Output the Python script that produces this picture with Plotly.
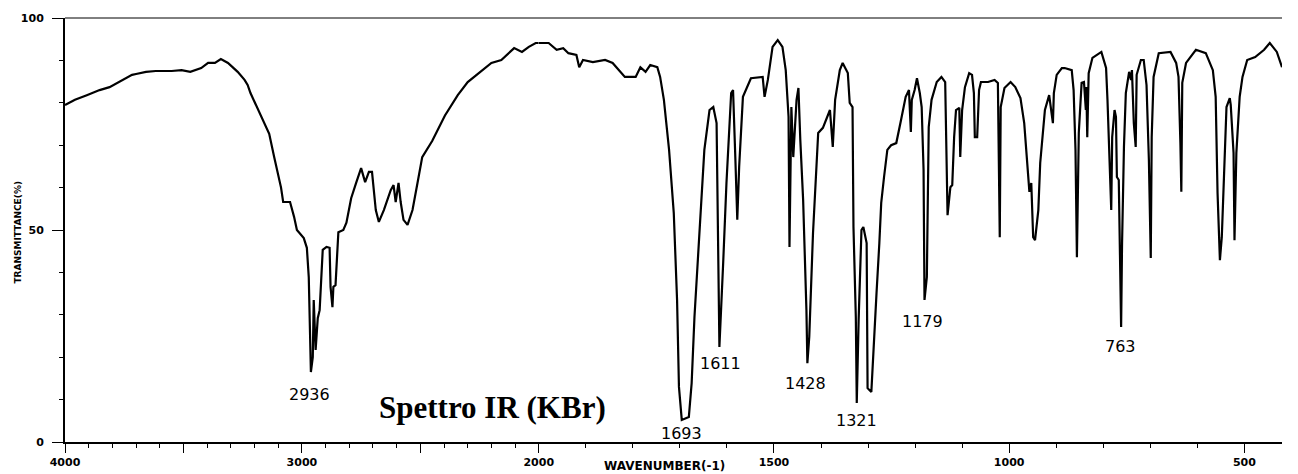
import plotly.graph_objects as go

# ---- data: IR spectrum (wavenumber in cm-1, transmittance in %) ----
wavenumber = [
    4000, 3958, 3908, 3854, 3812, 3758, 3717, 3700, 3658, 3617, 3550, 3508, 3471, 3425,
    3396, 3367, 3342, 3312, 3271, 3242, 3229, 3217, 3175, 3138, 3117, 3096, 3088, 3079,
    3050, 3033, 3021, 2992, 2979, 2971, 2962, 2954, 2950, 2942, 2933, 2925, 2912, 2896,
    2883, 2879, 2871, 2867, 2858, 2846, 2825, 2812, 2792, 2771, 2750, 2733, 2717, 2704,
    2696, 2688, 2675, 2654, 2625, 2613, 2604, 2592, 2583, 2571, 2554, 2533, 2512, 2492,
    2450, 2396, 2342, 2300, 2200, 2158, 2104, 2071, 2042, 2013, 2000,
    1979, 1962, 1948, 1937, 1920, 1914, 1906, 1885, 1859, 1843, 1826, 1817, 1794, 1784,
    1773, 1763, 1748, 1742, 1734, 1723, 1713, 1706, 1702, 1696, 1681, 1675, 1669, 1658,
    1648, 1637, 1629, 1622, 1616, 1608, 1601, 1591, 1587, 1582, 1578, 1574, 1566, 1549,
    1524, 1520, 1513, 1503, 1492, 1482, 1475, 1469, 1467, 1463, 1459, 1452, 1448, 1444,
    1438, 1431, 1429, 1425, 1417, 1406, 1396, 1381, 1375, 1370, 1360, 1354, 1343, 1339,
    1333, 1331, 1326, 1324, 1320, 1314, 1310, 1303, 1301, 1293, 1289, 1282, 1276, 1272,
    1266, 1259, 1251, 1240, 1230, 1220, 1213, 1209, 1207, 1201, 1196, 1190, 1186, 1182,
    1180, 1175, 1171, 1165, 1154, 1144, 1136, 1134, 1131, 1125, 1121, 1117, 1113, 1106,
    1104, 1100, 1094, 1085, 1079, 1075, 1073, 1068, 1064, 1060, 1045, 1031, 1024, 1020,
    1018, 1010, 997, 987, 976, 968, 961, 957, 953, 949, 945, 938, 934, 924, 915, 911,
    907, 905, 899, 888, 882, 867, 863, 859, 856, 852, 846, 841, 837, 836, 834, 831, 823,
    804, 794, 791, 787, 783, 781, 776, 773, 771, 767, 762, 760, 756, 752, 745, 741, 739,
    735, 731, 729, 720, 714, 708, 703, 699, 697, 693, 682, 657, 645, 640, 636, 634, 632,
    624, 603, 582, 567, 561, 557, 552, 548, 542, 538, 531, 529, 523, 521, 517, 510, 504,
    494, 477, 458, 446, 431, 420,
]
transmittance = [
    79.5, 80.7, 81.8, 83.0, 83.7, 85.4, 86.6, 86.8, 87.3, 87.5, 87.5, 87.7, 87.3, 88.2,
    89.4, 89.4, 90.3, 89.4, 87.3, 85.4, 84.2, 82.3, 77.0, 72.7, 67.2, 62.5, 60.0, 56.6,
    56.6, 53.1, 50.0, 48.1, 45.8, 38.9, 16.5, 20.0, 33.5, 21.7, 29.2, 31.1, 45.3, 46.0,
    45.8, 36.6, 31.8, 36.6, 37.0, 49.5, 50.0, 51.7, 57.5, 61.1, 64.6, 61.3, 63.7, 63.7,
    59.4, 54.7, 51.9, 54.7, 59.4, 60.6, 56.6, 61.1, 56.6, 52.4, 51.2, 54.7, 61.1, 67.2,
    71.0, 77.0, 81.8, 84.9, 89.4, 90.1, 92.9, 92.0, 93.2, 94.1, 94.1,
    94.1, 92.5, 92.9, 91.7, 91.3, 88.4, 90.1, 89.6, 90.1, 89.4, 87.3, 86.1, 86.1, 88.4,
    87.3, 88.9, 88.4, 86.1, 80.7, 68.9, 54.0, 33.5, 13.0, 5.2, 5.9, 13.9, 29.5, 49.3,
    68.9, 78.3, 79.0, 75.2, 22.4, 42.2, 61.1, 82.3, 83.0, 66.5, 52.4, 64.9, 81.4, 85.8,
    86.1, 81.4, 85.4, 93.2, 94.8, 93.2, 87.7, 76.7, 46.0, 79.0, 67.2, 80.7, 83.5, 71.2,
    57.1, 31.1, 18.6, 24.8, 49.3, 72.9, 74.1, 78.3, 69.6, 80.7, 87.7, 89.4, 87.0, 80.0,
    79.0, 50.7, 29.5, 9.2, 28.8, 50.0, 50.7, 46.9, 12.7, 11.8, 19.3, 35.1, 46.9, 56.4,
    62.5, 68.9, 70.0, 70.5, 75.9, 81.4, 83.0, 73.1, 80.7, 83.0, 85.8, 82.3, 79.0, 64.2,
    33.5, 38.9, 74.3, 80.7, 84.9, 86.1, 84.9, 71.9, 53.5, 60.1, 60.6, 71.9, 78.3, 78.8,
    67.2, 78.3, 83.7, 87.0, 86.6, 82.3, 71.9, 71.9, 83.0, 84.9, 84.9, 85.4, 84.7, 48.3,
    79.0, 83.5, 84.9, 83.7, 81.1, 75.2, 65.8, 59.0, 61.1, 48.3, 47.6, 54.7, 65.8, 78.3, 81.8, 79.0,
    75.2, 82.3, 86.6, 88.2, 88.2, 87.7, 83.0, 68.9, 43.6, 72.9, 84.7, 84.9, 78.3, 83.7, 71.9, 87.0, 90.6,
    92.0, 88.2, 80.7, 66.5, 54.7, 71.9, 78.3, 76.7, 62.5, 61.8, 27.1, 46.9, 69.6, 82.3, 87.3, 85.4, 87.7,
    75.2, 69.6, 86.6, 90.1, 90.1, 84.2, 66.5, 43.4, 71.9, 86.1, 91.7, 92.0, 89.4, 86.1, 70.5, 59.0, 84.7,
    89.4, 92.5, 91.7, 87.7, 81.4, 58.7, 42.9, 48.3, 64.2, 79.0, 81.1, 79.5, 68.2, 47.6, 68.2, 81.4, 86.1,
    90.1, 90.8, 92.5, 94.1, 92.0, 88.4,
]

# labelled bands (cm-1)
peak_labels = ["2936", "1693", "1611", "1428", "1321", "1179", "763"]

# axis ticks
hi_tickvals = [4000, 3500, 3000, 2500, 2000]
hi_ticktext = ["4000", "", "3000", "", "2000"]
lo_tickvals = [1500, 1000, 500]
lo_ticktext = ["1500", "1000", "500"]
y_tickvals = [0, 50, 100]
y_ticktext = ["0", "50", "100"]

# ---- split spectrum at 2000 cm-1 (scale change) ----
wn_hi = [w for w in wavenumber if w >= 2000]
t_hi = [t for w, t in zip(wavenumber, transmittance) if w >= 2000]
wn_lo = [w for w in wavenumber if w <= 2000]
t_lo = [t for w, t in zip(wavenumber, transmittance) if w <= 2000]

W, H = 1298, 474
ML, MR, MT, MB = 65, 0, 18, 32
plot_w = W - ML - MR
split = 480 / plot_w

line_style = dict(color="black", width=2.2)
fig = go.Figure()
fig.add_trace(go.Scatter(x=wn_hi, y=t_hi, mode="lines", line=line_style,
                         xaxis="x", yaxis="y", hoverinfo="x+y"))
fig.add_trace(go.Scatter(x=wn_lo, y=t_lo, mode="lines", line=line_style,
                         xaxis="x2", yaxis="y", hoverinfo="x+y"))

tick_font = dict(family="DejaVu Sans, Arial, sans-serif", size=11, color="black", weight="bold")
common_x = dict(
    showline=True, linewidth=2, linecolor="black", showgrid=False, zeroline=False,
    ticks="outside", ticklen=9, tickwidth=1, tickcolor="black", tickfont=tick_font,
    minor=dict(dtick=100, tick0=0, ticks="outside", ticklen=4, tickwidth=1,
               tickcolor="black", showgrid=False),
    anchor="y", fixedrange=True,
)

fig.update_layout(
    width=W, height=H,
    margin=dict(l=ML, r=MR, t=MT, b=MB),
    paper_bgcolor="white", plot_bgcolor="white",
    showlegend=False,
    xaxis=dict(domain=[0, split], range=[4000, 2000], tickvals=hi_tickvals,
               ticktext=hi_ticktext, **common_x),
    xaxis2=dict(domain=[split, 1], range=[2000, 420], tickvals=lo_tickvals,
                ticktext=lo_ticktext, **common_x),
    yaxis=dict(range=[0, 100], tickvals=y_tickvals, ticktext=y_ticktext,
               showline=True, linewidth=2, linecolor="black", showgrid=False,
               zeroline=False, ticks="outside", ticklen=11, tickwidth=1,
               tickcolor="black", tickfont=tick_font, ticklabelstandoff=6,
               minor=dict(dtick=10, ticks="outside", ticklen=4, tickwidth=1,
                          tickcolor="black", showgrid=False),
               anchor="x", fixedrange=True),
    shapes=[dict(type="line", xref="paper", yref="paper", x0=0, x1=1, y0=1, y1=1,
                 line=dict(color="black", width=1))],
)

# peak label placement (axis, x, y in data units)
label_pos = [("x", 2969, 11.1), ("x2", 1696, 2.1), ("x2", 1614, 18.4),
             ("x2", 1432, 13.7), ("x2", 1325, 5.0), ("x2", 1185, 28.5),
             ("x2", 764, 22.6)]
peak_font = dict(family="DejaVu Sans, Arial, sans-serif", size=16, color="black")
for txt, (ax, px, py) in zip(peak_labels, label_pos):
    fig.add_annotation(text=txt, xref=ax, yref="y", x=px, y=py, showarrow=False,
                       xanchor="center", yanchor="middle", font=peak_font)

fig.add_annotation(text="<b>Spettro IR (KBr)</b>", xref="paper", yref="paper",
                   x=(498.5 - ML) / plot_w, y=(442 - 407) / 424, showarrow=False,
                   xanchor="center", yanchor="middle",
                   font=dict(family="Liberation Serif, Times New Roman, serif", size=31,
                             color="black"))

fig.add_annotation(text="<b>WAVENUMBER(-1)</b>", xref="paper", yref="paper",
                   x=(672 - ML) / plot_w, y=(442 - 466) / 424, showarrow=False,
                   xanchor="center", yanchor="middle",
                   font=dict(family="DejaVu Sans, Arial, sans-serif", size=12, color="black"))
fig.add_annotation(text="<b>TRANSMITTANCE(%)</b>", xref="paper", yref="paper",
                   x=(17 - ML) / plot_w, y=(442 - 232) / 424, showarrow=False,
                   textangle=-90, xanchor="center", yanchor="middle",
                   font=dict(family="DejaVu Sans, Arial, sans-serif", size=9, color="black"))

fig.write_html("out.html", config={"displayModeBar": False},
               post_script="document.body.style.margin='0';document.body.style.overflow='hidden';")
